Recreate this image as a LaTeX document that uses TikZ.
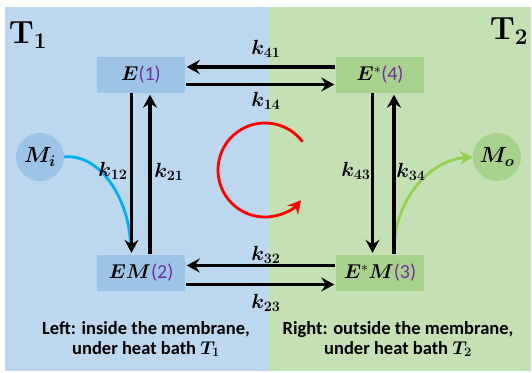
\RequirePackage{fix-cm}
\documentclass[tikz,border=0pt]{standalone}
\usepackage{amsmath,bm}
\usepackage[no-math]{fontspec}
\setmainfont{Carlito}
\usetikzlibrary{arrows.meta}
\definecolor{bgblue}{RGB}{189,215,238}
\definecolor{boxblue}{RGB}{157,195,230}
\definecolor{bggreen}{RGB}{197,224,180}
\definecolor{boxgreen}{RGB}{169,209,142}
\definecolor{numpurple}{RGB}{112,48,160}
\definecolor{cyanline}{RGB}{0,176,240}
\definecolor{greenline}{RGB}{146,208,80}
\tikzset{
  statebox/.style={minimum width=88pt,minimum height=36pt,inner sep=0pt,font=\fontsize{20}{22}\selectfont},
  bluebox/.style={statebox,fill=boxblue},
  greenbox/.style={statebox,fill=boxgreen},
  molecule/.style={circle,minimum size=48pt,inner sep=0pt,font=\fontsize{22}{24}\selectfont},
  tip/.style={-{Stealth[length=13pt,width=14pt,inset=4.5pt]}},
  rate/.style={draw,line width=3.2pt,tip,shorten <=1pt,shorten >=1.5pt},
  klabel/.style={inner sep=0pt,font=\fontsize{20.5}{22}\selectfont},
  caption/.style={inner sep=0pt,align=center,font=\fontsize{18.5}{20}\selectfont\bfseries},
}
\newcommand{\numtag}[1]{\textcolor{numpurple}{(#1)}}
\begin{document}
\begin{tikzpicture}[x=1pt,y=-1pt]
\useasboundingbox (0,0) rectangle (532,372);
\fill[white] (0,0) rectangle (532,372);
\fill[bgblue] (5,7) rectangle (269,371);
\fill[bggreen] (269,7) rectangle (531,371);

\node[inner sep=0pt] (t1) at (28,35) {\fontsize{32}{34}\selectfont$\mathbf{T}_{\mathbf{1}}$};
\node[inner sep=0pt] (t2) at (509,31) {\fontsize{32}{34}\selectfont$\mathbf{T}_{\mathbf{2}}$};

\node[bluebox] (n1) at (141,75) {$\bm{E}$\numtag{1}};
\node[greenbox] (n4) at (380,75) {$\bm{E}^{*}$\numtag{4}};
\node[bluebox] (n2) at (141,272.5) {$\bm{EM}$\numtag{2}};
\node[greenbox] (n3) at (380,272.5) {$\bm{E}^{*}\bm{M}$\numtag{3}};

\node[molecule,fill=boxblue] (mi) at (40,157) {$\bm{M_i}$};
\node[molecule,fill=boxgreen] (mo) at (497,157) {$\bm{M_o}$};

% substrate curves
\coordinate (bluend) at (130.5,246);
\coordinate (greenstart) at (394,250);
\draw[cyanline,line width=2.8pt] (mi.east) .. controls (100,153) and (130,200) .. (bluend);
\draw[greenline,line width=2.8pt,tip] (greenstart) .. controls (394,200) and (430,160) .. (mo.west);

% cycle arrow
\coordinate (cyc) at (265,170);
\draw[red,line width=2.8pt,tip] ([shift={(37:47pt)}]cyc) arc[start angle=37,end angle=320,radius=47pt];

% transitions
\draw[rate] ([yshift=8pt]n4.west) -- ([yshift=8pt]n1.east);
\draw[rate] ([yshift=-9.5pt]n1.east) -- ([yshift=-9.5pt]n4.west);
\draw[rate] ([yshift=7pt]n3.west) -- ([yshift=7pt]n2.east);
\draw[rate] ([yshift=-12pt]n2.east) -- ([yshift=-12pt]n3.west);
\draw[rate,shorten <=0pt] ([xshift=-9.5pt]n1.south) -- ([xshift=-9.5pt]n2.north);
\draw[rate,shorten <=0pt] ([xshift=9pt]n2.north) -- ([xshift=9pt]n1.south);
\draw[rate,shorten <=0pt] ([xshift=-7.5pt]n4.south) -- ([xshift=-7.5pt]n3.north);
\draw[rate,shorten <=0pt] ([xshift=14pt]n3.north) -- ([xshift=14pt]n4.south);

\node[klabel] (k41) at (266,49) {$\bm{k_{41}}$};
\node[klabel] (k14) at (266,101) {$\bm{k_{14}}$};
\node[klabel] (k32) at (266,254.5) {$\bm{k_{32}}$};
\node[klabel] (k23) at (266,303) {$\bm{k_{23}}$};
\node[klabel] (k12) at (113,171) {$\bm{k_{12}}$};
\node[klabel] (k21) at (169,172) {$\bm{k_{21}}$};
\node[klabel] (k43) at (356,171) {$\bm{k_{43}}$};
\node[klabel] (k34) at (411,172) {$\bm{k_{34}}$};

\node[caption] (capl) at (146,339) {Left: inside the membrane,\\under heat bath $\bm{T_1}$};
\node[caption] (capr) at (398,339) {Right: outside the membrane,\\under heat bath $\bm{T_2}$};
\end{tikzpicture}
\end{document}
